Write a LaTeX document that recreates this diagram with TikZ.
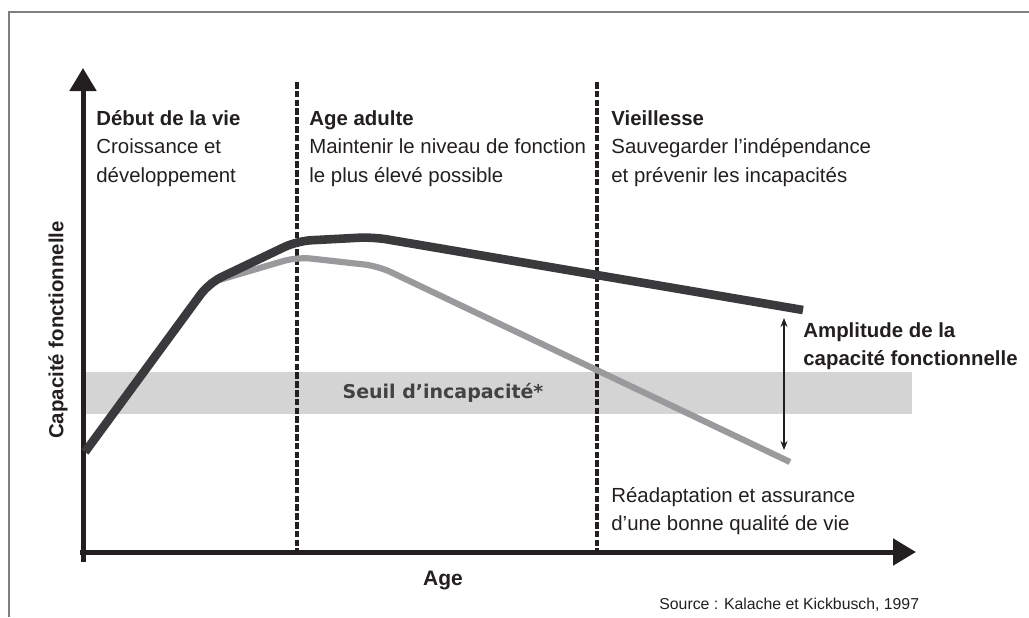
\documentclass[tikz,border=0pt]{standalone}
\usepackage{fontspec}
\setmainfont{Liberation Sans}
\newfontfamily\seuilfont{DejaVu Sans}
\usetikzlibrary{arrows.meta,positioning,calc}
\definecolor{ink}{HTML}{231F20}
\definecolor{darkcurve}{HTML}{3A393C}
\definecolor{lightcurve}{HTML}{9A999C}
\definecolor{bandgray}{HTML}{D4D4D4}
\definecolor{framegray}{HTML}{7F7F7F}

\begin{document}
\begin{tikzpicture}[
    x=0.5pt,y=-0.5pt,
    phase/.style={anchor=north west,align=left,inner sep=0pt,text=ink,
                  font=\fontsize{10.2}{14.25}\selectfont},
    axis/.style={line width=2.5pt,draw=ink,
                 -{Triangle[length=11.5pt,width=13pt]}},
    limit/.style={line width=2pt,draw=ink,dash pattern=on 3.3pt off 1.1pt},
    curve/.style={line width=4.3pt,line join=round,rounded corners=7}
  ]
    \useasboundingbox (0,0) rectangle (1029,617);
    % cadre
    \draw[framegray,line width=1pt] (1029,12) -- (9,12) -- (9,617);

    % seuil
    \fill[bandgray] (86,372) rectangle (912,414);
    \node[font=\seuilfont\bfseries\fontsize{9.5}{11}\selectfont,text=ink!85]
          (seuil) at (443,393) {Seuil d’incapacité*};

    % axes
    \coordinate (o) at (83,552);
    \coordinate (ybas) at (83,562);
    \coordinate (ytip) at (83,68);
    \coordinate (xdeb) at (80,552);
    \coordinate (xtip) at (916,552);
    \draw[axis] (ybas) -- (ytip);
    \draw[axis] (xdeb) -- (xtip);

    % limites des phases
    \coordinate (l1h) at (297,82);  \coordinate (l1b) at (297,552);
    \coordinate (l2h) at (597,82);  \coordinate (l2b) at (597,552);
    \draw[limit] (l1h) -- (l1b);
    \draw[limit] (l2h) -- (l2b);

    % courbes
    \coordinate (c0) at (85,452);
    \coordinate (c1) at (209,283);
    \coordinate (c2) at (297,241);
    \coordinate (c3) at (373,237);
    \coordinate (c4) at (803,310);
    \coordinate (g2) at (297,257);
    \coordinate (g3) at (378,266);
    \coordinate (g4) at (790,462);
    \draw[curve,lightcurve,line width=3.1pt] (c1) -- (g2) -- (g3) -- (g4);
    \draw[curve,darkcurve] (c0) -- (c1) -- (c2) -- (c3) -- (c4);

    % amplitude
    \coordinate (amph) at (784,318);
    \coordinate (ampb) at (784,450);
    \draw[ink,line width=0.6pt,{Stealth[length=4.5pt,width=3.5pt]}-{Stealth[length=4.5pt,width=3.5pt]}]
          (amph) -- (ampb);

    % textes
    \node[phase] (debut) at (96,110)
          {\textbf{Début de la vie}\\Croissance et\\développement};
    \node[phase] (adulte) at (309,110)
          {\textbf{Age adulte}\\Maintenir le niveau de fonction\\le plus élevé possible};
    \node[phase] (vieil) at (611,110)
          {\textbf{Vieillesse}\\Sauvegarder l’indépendance\\et prévenir les incapacités};
    \node[phase,font=\fontsize{10.2}{14.25}\selectfont\bfseries] (ampl) at (803,322)
          {Amplitude de la\\capacité fonctionnelle};
    \node[phase] (readapt) at (611,487)
          {Réadaptation et assurance\\d’une bonne qualité de vie};
    \node[font=\fontsize{10.2}{12}\selectfont\bfseries,text=ink,rotate=90]
          (ylab) at (58,330) {Capacité fonctionnelle};
    \node[font=\fontsize{10.5}{12}\selectfont\bfseries,text=ink]
          (xlab) at (443,580) {Age};
    \node[anchor=base west,inner sep=0pt,font=\fontsize{7.9}{10}\selectfont,text=ink]
          (source) at (659,609) {Source : Kalache et Kickbusch, 1997};
  \end{tikzpicture}
\end{document}
